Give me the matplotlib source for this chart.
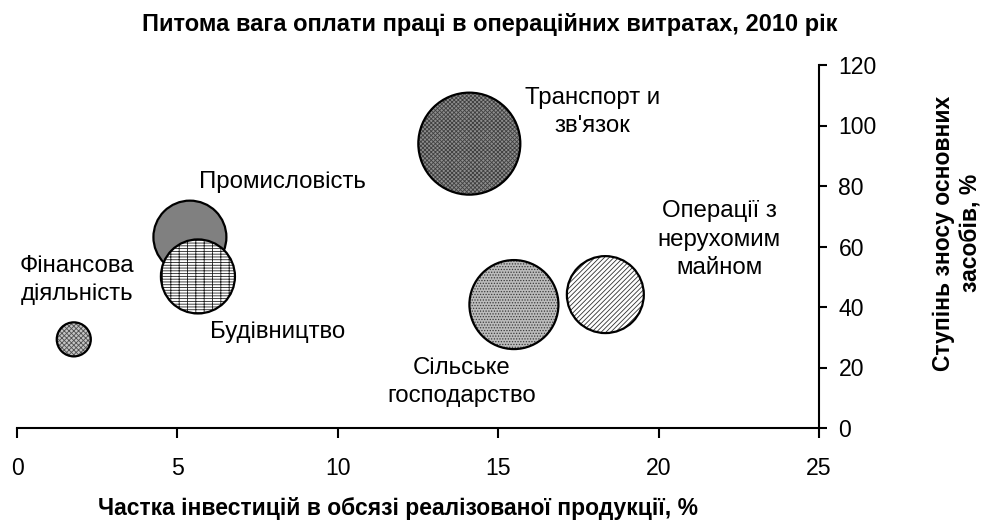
import matplotlib
matplotlib.use("Agg")
import matplotlib.pyplot as plt
import numpy as np

plt.rcParams["font.family"] = ["Liberation Sans", "DejaVu Sans"]
plt.rcParams["hatch.linewidth"] = 0.6

# Sectors of the economy, 2010
sectors = ["Фінансова\nдіяльність", "Промисловість", "Будівництво",
           "Транспорт и\nзв'язок", "Сільське\nгосподарство",
           "Операції з\nнерухомим\nмайном"]
invest_share = [1.77, 5.39, 5.64, 14.1, 15.49, 18.34]     # x, %
depreciation = [29.3, 63.1, 50.1, 94.0, 40.8, 44.1]       # y, %
payroll_share = [2.9, 13.3, 13.7, 26.0, 19.8, 14.8]       # bubble size, %

x_ticks = [0, 5, 10, 15, 20, 25]
y_ticks = [0, 20, 40, 60, 80, 100, 120]

title = "Питома вага оплати праці в операційних витратах, 2010 рік"
x_label = "Частка інвестицій в обсязі реалізованої продукції, %"
y_label = "Ступінь зносу основних\nзасобів, %"

# bubble fill styles: (face colour, hatch, hatch colour)
styles = [("#c4c4c4", "xxxxxxx", "#505050"),
          ("#808080", None, "#808080"),
          ("white", "------||", "#202020"),
          ("#8e8e8e", "xxxxxxxx", "#404040"),
          ("#bcbcbc", "......", "#3a3a3a"),
          ("white", "///////", "#303030")]
# label offsets from bubble centre, pixels
label_offsets = [(3, 59), (93, 55), (80, -56), (123, 32), (-52, -77), (114, 55)]

W, H, DPI = 981, 523, 100
fig = plt.figure(figsize=(W / DPI, H / DPI), dpi=DPI)
ax = fig.add_axes([17 / W, (H - 428) / H, (819 - 17) / W, (428 - 65) / H])

max_r_px = 51.0
pt_per_px = 72.0 / DPI
vmax = max(payroll_share)
for x, y, v, (fc, hatch, hc), name, off in zip(invest_share, depreciation,
                                                payroll_share, styles,
                                                sectors, label_offsets):
    r = max_r_px * np.sqrt(v / vmax)
    s = (2 * r * pt_per_px) ** 2
    ax.scatter([x], [y], s=s, facecolor=fc, edgecolor=hc, hatch=hatch,
               linewidth=0, zorder=3)
    ax.scatter([x], [y], s=s, facecolor="none", edgecolor="black",
               linewidth=1.6, zorder=3)
    ax.annotate(name, (x, y), xytext=off, textcoords="offset pixels",
                ha="center", va="center", multialignment="center",
                fontsize=17.3, linespacing=1.36, zorder=4)

ax.set_xlim(0, 25)
ax.set_ylim(0, 120)
ax.set_xticks(x_ticks)
ax.set_yticks(y_ticks)
ax.set_xticklabels([str(t) for t in x_ticks])
ax.set_yticklabels([str(t) for t in y_ticks])

for side in ("top", "left"):
    ax.spines[side].set_visible(False)
for side in ("bottom", "right"):
    ax.spines[side].set_linewidth(1.5)
    ax.spines[side].set_color("black")

ax.yaxis.tick_right()
ax.tick_params(axis="x", direction="out", length=7, width=1.5,
               labelsize=16.6, pad=14)
ax.tick_params(axis="y", direction="out", length=6, width=1.5,
               labelsize=16.6, pad=8)

fig.text(490 / W, 1 - 24 / H, title, ha="center", va="center",
         fontsize=17, fontweight="bold")
fig.text(398 / W, 1 - 509 / H, x_label, ha="center", va="center",
         fontsize=16.5, fontweight="bold")
fig.text(957 / W, 1 - 233 / H, y_label, ha="center", va="center",
         rotation=90, multialignment="center", fontsize=16.5,
         fontweight="bold", linespacing=1.25)

fig.savefig("out.png", dpi=DPI)
